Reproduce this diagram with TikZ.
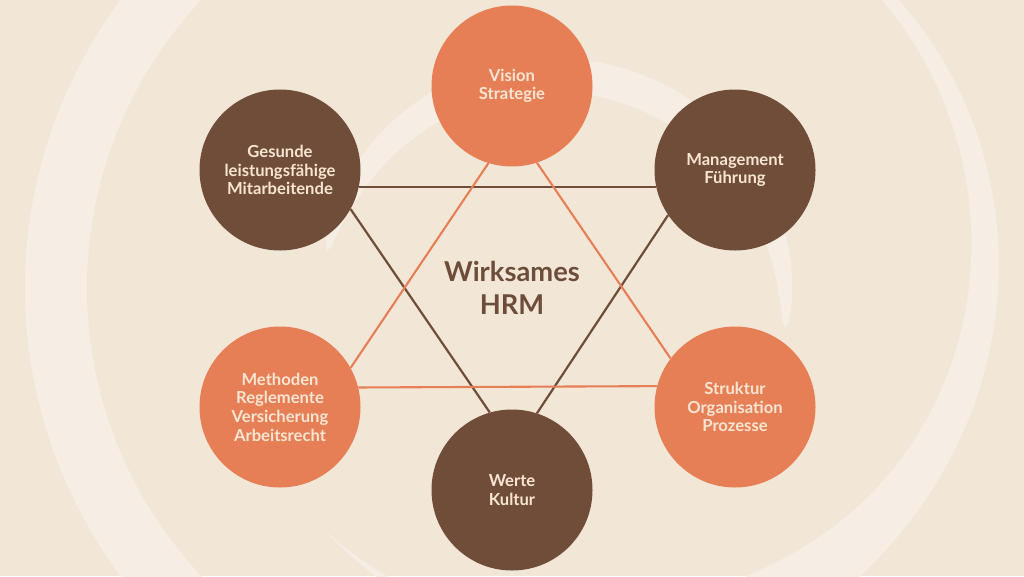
\documentclass[tikz,border=0pt]{standalone}
\usepackage{fontspec}
\setmainfont{Lato}
\definecolor{bgcol}{HTML}{F2E6D6}
\definecolor{bandcol}{HTML}{F6EEE4}
\definecolor{accent}{HTML}{E77F56}
\definecolor{earth}{HTML}{6F4D39}
\definecolor{cream}{HTML}{F8E5D2}
\definecolor{hrmtext}{HTML}{6E4C3A}
\begin{document}
\begin{tikzpicture}[x=1pt,y=-1pt,
  declare function={
    qR(\a)=(\a-75)/30;
    wR(\a)=(22+60/(1+qR(\a)*qR(\a)))*sin((\a+75)*0.857143);
    wI(\a)=34*sqrt(abs(sin((\a+166)*1.052632)));
  },
  hub/.style={circle, minimum size=161pt, inner sep=0pt, align=center, text=cream,
    font=\fontsize{16.6}{18.6}\selectfont\bfseries},
  orangehub/.style={hub, fill=accent},
  brownhub/.style={hub, fill=earth},
  brownlink/.style={draw=earth, line width=2.2pt},
  orangelink/.style={draw=accent, line width=2.1pt},
  centertext/.style={align=center, text=hrmtext, inner sep=0pt,
    font=\fontsize{27.3}{33}\selectfont\bfseries},
]
\useasboundingbox (0,0) rectangle (1024,576);
\fill[bgcol] (0,0) rectangle (1024,576);
\begin{scope}
  \clip (0,0) rectangle (1024,576);
  % large left band
  \draw[bandcol, line width=62pt] (507,288) ++(130:451) arc[start angle=130, end angle=230, radius=451];
  % large right crescent
  \fill[bandcol] plot[domain=-75:135, samples=160, variable=\t]
      ({597+(388+wR(\t)/2)*cos(\t)},{254+(388+wR(\t)/2)*sin(\t)})
    -- plot[domain=135:-75, samples=160, variable=\t]
      ({597+(388-wR(\t)/2)*cos(\t)},{254+(388-wR(\t)/2)*sin(\t)}) -- cycle;
  % inner crescent
  \fill[bandcol] plot[domain=-166:5, samples=120, variable=\t]
      ({553+(233+wI(\t)/2)*cos(\t)},{308+(233+wI(\t)/2)*sin(\t)})
    -- plot[domain=5:-166, samples=120, variable=\t]
      ({553+(233-wI(\t)/2)*cos(\t)},{308+(233-wI(\t)/2)*sin(\t)}) -- cycle;
\end{scope}

\node[orangehub] (vis) at (512,86) {Vision\\Strategie};
\node[brownhub] (mgmt) at (735,170) {Management\\Führung};
\node[orangehub] (str) at (735,407) {Struktur\\Organisation\\Prozesse};
\node[brownhub] (wer) at (512,490) {Werte\\Kultur};
\node[orangehub] (met) at (280,407) {Methoden\\Reglemente\\Versicherung\\Arbeitsrecht};
\node[brownhub] (ges) at (280,170) {Gesunde\\leistungsfähige\\Mitarbeitende};
\node[centertext] (hrm) at (512,288) {Wirksames\\HRM};

% brown triangle
\draw[brownlink] (ges.-12.92) -- (mgmt.192.92);
\draw[brownlink] (ges.-29.1) -- (wer.106.7);
\draw[brownlink] (mgmt.214.9) -- (wer.72.8);
% orange triangle
\draw[orangelink] (met.14.39) -- (str.165.61);
\draw[orangelink] (vis.253.2) -- (met.29.6);
\draw[orangelink] (vis.-72.5) -- (str.143.9);
\end{tikzpicture}
\end{document}
